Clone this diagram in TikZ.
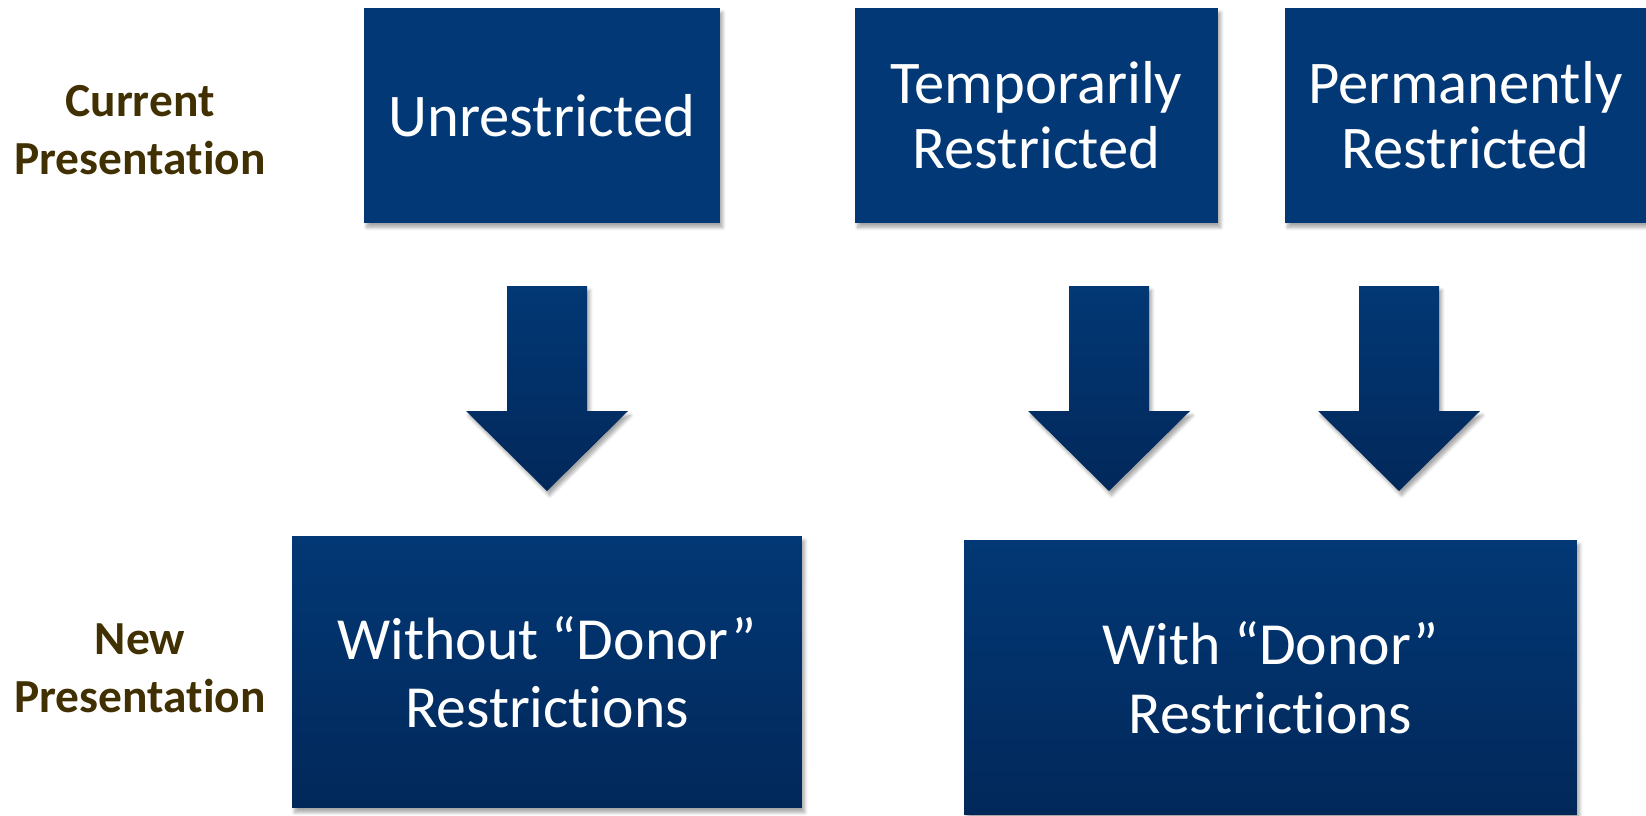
\documentclass[tikz,border=0pt]{standalone}
\usepackage{fontspec}
\setmainfont{Carlito}[Ligatures=NoCommon]
\usetikzlibrary{shadows.blur}

\definecolor{boxblue}{RGB}{2,56,117}
\definecolor{boxdark}{RGB}{2,40,90}
\definecolor{labelbrown}{RGB}{64,48,2}

\tikzset{
  softshadow/.style={blur shadow={shadow xshift=1.5pt, shadow yshift=-2.5pt,
      shadow blur steps=6, shadow opacity=35}},
  oldbox/.style={fill=boxblue, text=white, align=center, inner sep=0pt,
      font=\fontsize{34.5}{37}\selectfont, softshadow},
  newbox/.style={top color=boxblue, bottom color=boxdark, text=white,
      align=center, inner sep=0pt, font=\fontsize{34}{39}\selectfont, softshadow},
  rowlabel/.style={text=labelbrown, align=center,
      font=\fontsize{27}{33}\bfseries\selectfont},
  blockarrow/.style={top color=boxblue, bottom color=boxdark, softshadow}
}

\begin{document}
\begin{tikzpicture}[x=0.02cm, y=-0.02cm]
    \useasboundingbox (0,0) rectangle (1646,815);

    % row labels
    \node[rowlabel] (cur) at (140,130) {Current\\Presentation};
    \node[rowlabel] (new) at (140,668) {New\\Presentation};

    % current categories
    \node[oldbox, minimum width=7.12cm, minimum height=4.3cm] (unres) at (542,115.5) {Unrestricted};
    \node[oldbox, minimum width=7.26cm, minimum height=4.3cm] (temp) at (1036.5,115.5) {Temporarily\\Restricted};
    \node[oldbox, minimum width=7.22cm, minimum height=4.3cm] (perm) at (1465.5,115.5) {Permanently\\Restricted};

    % new categories
    \node[newbox, minimum width=10.2cm, minimum height=5.44cm] (without) at (547,672) {Without “Donor”\\Restrictions};
    \node[newbox, minimum width=12.26cm, minimum height=5.5cm] (with) at (1270.5,677.5) {With “Donor”\\Restrictions};

    % block arrows
    \foreach \ax in {547,1109,1399}
        \path[blockarrow] (\ax-40,286) -- (\ax+40,286) -- (\ax+40,411) -- (\ax+81,411)
            -- (\ax,491) -- (\ax-81,411) -- (\ax-40,411) -- cycle;
\end{tikzpicture}
\end{document}
